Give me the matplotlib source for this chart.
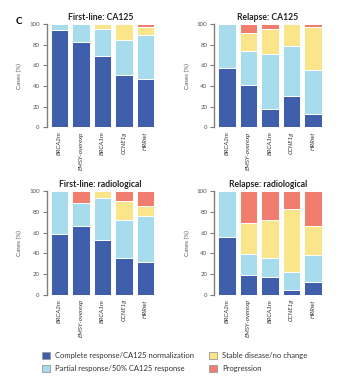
import numpy as np
import matplotlib
matplotlib.use('Agg')
import matplotlib.pyplot as plt
from matplotlib.patches import Patch

plt.rcParams['font.family'] = ['Lato', 'DejaVu Sans']

groups = ["BRCA2m", "EMSY-overexp", "BRCA1m", "CCNE1g", "HRRwt"]
categories = ["Complete response/CA125 normalization", "Partial response/50% CA125 response",
              "Stable disease/no change", "Progression"]
colors = ["#3f5eab", "#a6dcec", "#fae58b", "#f07d6e"]

# first-line CA125
fl_ca125_complete = [94, 83, 69.5, 50.5, 47]
fl_ca125_partial = [6, 17, 26, 34, 42]
fl_ca125_stable = [0, 0, 4.5, 15.5, 8.5]
fl_ca125_prog = [0, 0, 0, 0, 2.5]

# relapse CA125
rel_ca125_complete = [57.5, 41, 17.5, 30.5, 13]
rel_ca125_partial = [42.5, 33, 53.5, 48.5, 42.5]
rel_ca125_stable = [0, 17.5, 24.5, 21, 42]
rel_ca125_prog = [0, 8.5, 4.5, 0, 2.5]

# first-line radiological
fl_rad_complete = [59, 66, 52.5, 35.5, 31.5]
fl_rad_partial = [41, 22, 40.5, 37, 44]
fl_rad_stable = [0, 0, 7, 18, 10]
fl_rad_prog = [0, 12, 0, 9.5, 14.5]

# relapse radiological
rel_rad_complete = [56, 19.5, 17.5, 5, 12.5]
rel_rad_partial = [44, 20, 18.5, 17, 25.5]
rel_rad_stable = [0, 30, 36.5, 61, 28]
rel_rad_prog = [0, 30.5, 27.5, 17, 34]

panels = [
    ("First-line: CA125", [fl_ca125_complete, fl_ca125_partial, fl_ca125_stable, fl_ca125_prog]),
    ("Relapse: CA125", [rel_ca125_complete, rel_ca125_partial, rel_ca125_stable, rel_ca125_prog]),
    ("First-line: radiological", [fl_rad_complete, fl_rad_partial, fl_rad_stable, fl_rad_prog]),
    ("Relapse: radiological", [rel_rad_complete, rel_rad_partial, rel_rad_stable, rel_rad_prog]),
]

W, H = 340, 390
fig = plt.figure(figsize=(W / 100, H / 100), dpi=100)

# axes boxes in pixels: left, top, width, height
boxes = [(46.7, 24, 107.4, 103.3), (214.3, 24, 107.4, 103.3),
         (46.7, 191, 107.4, 104), (214.3, 191, 107.4, 104)]

grey = "#7f7f7f"
x = np.arange(len(groups))
for (title, series), (l, t, w, h) in zip(panels, boxes):
    ax = fig.add_axes([l / W, (H - t - h) / H, w / W, h / H])
    bottom = np.zeros(len(groups))
    for vals, c in zip(series, colors):
        vals = np.array(vals, dtype=float)
        ax.bar(x, vals, bottom=bottom, width=0.8, color=c, edgecolor="white", linewidth=0.7)
        bottom += vals
    ax.set_xlim(-0.595, 4.4)
    ax.set_ylim(0, 100)
    ax.set_yticks([0, 20, 40, 60, 80, 100])
    ax.set_xticks(x)
    ax.set_xticklabels(groups, rotation=90, fontsize=4.5, style="italic", color="#333333")
    ax.tick_params(axis="x", length=0, pad=3)
    ax.tick_params(axis="y", labelsize=4.4, colors=grey, labelcolor="#555555", length=3, width=0.8, pad=2)
    for s in ["top", "right", "bottom"]:
        ax.spines[s].set_visible(False)
    ax.spines["left"].set_color(grey)
    ax.spines["left"].set_linewidth(1.0)
    ax.set_ylabel("Cases (%)", fontsize=4.5, color="#555555", labelpad=5)
    ax.set_title(title, fontsize=6.2, fontweight="bold", color="#222222", pad=3)

fig.text(16 / W, 1 - 22 / H, "C", fontsize=7, fontweight="bold", va="center", ha="left")

handles = [Patch(facecolor=c, edgecolor="#999999", linewidth=0.6) for c in colors]
leg = fig.legend(handles, categories,
                 loc="center left", bbox_to_anchor=(35 / W, 1 - 362 / H), ncol=2, frameon=False,
                 fontsize=5.5, handlelength=1.0, handleheight=1.0, columnspacing=2.0,
                 handletextpad=0.7, labelspacing=0.85)
for txt in leg.get_texts():
    txt.set_color("#333333")

fig.savefig("out.png", dpi=100)
